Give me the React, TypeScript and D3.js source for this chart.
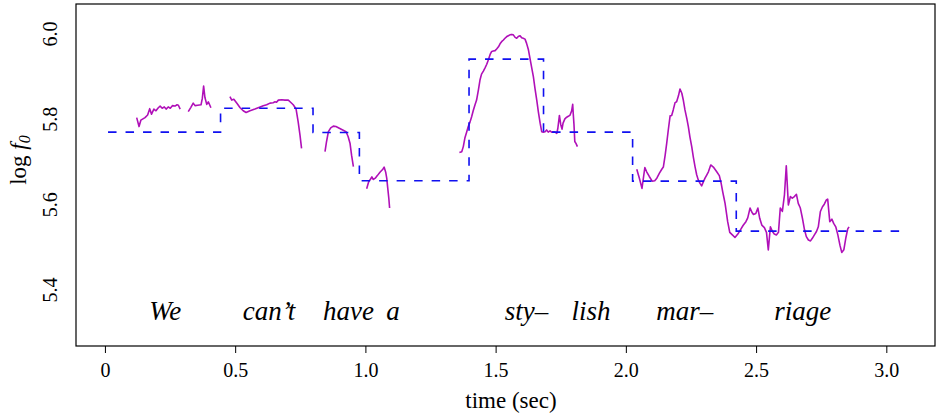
import React from "react";
import * as d3 from "d3";

// Dashed step function (time in sec, log f0)
const stepTimes = [0.01, 0.442, 0.797, 0.975, 1.396, 1.682, 2.024, 2.422, 3.075];
const stepValues = [5.77, 5.826, 5.769, 5.656, 5.941, 5.77, 5.655, 5.538, 5.538];

// Pitch contour segments [time, log f0]
const contourWe1: [number, number][] = [
  [0.12, 5.804], [0.129, 5.783], [0.136, 5.798], [0.152, 5.804], [0.162, 5.81], [0.17, 5.825],
  [0.177, 5.812], [0.186, 5.824], [0.194, 5.82], [0.203, 5.827], [0.21, 5.831], [0.218, 5.826],
  [0.226, 5.829], [0.233, 5.824], [0.241, 5.829], [0.249, 5.826], [0.257, 5.832], [0.267, 5.831],
  [0.275, 5.834], [0.28, 5.833], [0.287, 5.824],
];
const contourWe2: [number, number][] = [
  [0.318, 5.818], [0.328, 5.828], [0.337, 5.838], [0.344, 5.832], [0.354, 5.833], [0.367, 5.834],
  [0.372, 5.849], [0.377, 5.878], [0.382, 5.851], [0.389, 5.835], [0.395, 5.841], [0.4, 5.834],
  [0.405, 5.827],
];
const contourCant: [number, number][] = [
  [0.478, 5.853], [0.485, 5.845], [0.493, 5.847], [0.504, 5.838], [0.517, 5.827], [0.529, 5.82],
  [0.54, 5.816], [0.555, 5.82], [0.574, 5.824], [0.594, 5.829], [0.606, 5.832], [0.619, 5.834],
  [0.632, 5.838], [0.644, 5.839], [0.651, 5.841], [0.657, 5.84], [0.664, 5.845], [0.677, 5.846],
  [0.689, 5.845], [0.702, 5.845], [0.711, 5.84], [0.721, 5.834], [0.732, 5.824], [0.74, 5.794],
  [0.747, 5.763], [0.753, 5.732],
];
const contourHave: [number, number][] = [
  [0.843, 5.724], [0.849, 5.748], [0.856, 5.771], [0.865, 5.78], [0.875, 5.784], [0.885, 5.783],
  [0.898, 5.779], [0.911, 5.775], [0.924, 5.771], [0.932, 5.759], [0.939, 5.744], [0.945, 5.716],
  [0.952, 5.689],
];
const contourA: [number, number][] = [
  [1.003, 5.637], [1.011, 5.654], [1.018, 5.66], [1.023, 5.665], [1.028, 5.659], [1.036, 5.662],
  [1.044, 5.668], [1.054, 5.676], [1.065, 5.683], [1.07, 5.688], [1.076, 5.676], [1.08, 5.662],
  [1.084, 5.638], [1.088, 5.615], [1.091, 5.592],
];
const contourStylish: [number, number][] = [
  [1.359, 5.722], [1.368, 5.724], [1.374, 5.736], [1.38, 5.756], [1.387, 5.77], [1.393, 5.783],
  [1.4, 5.794], [1.406, 5.806], [1.412, 5.82], [1.419, 5.834], [1.425, 5.845], [1.432, 5.869],
  [1.438, 5.892], [1.444, 5.906], [1.451, 5.913], [1.457, 5.92], [1.464, 5.929], [1.47, 5.939],
  [1.477, 5.952], [1.483, 5.959], [1.489, 5.96], [1.496, 5.961], [1.502, 5.965], [1.509, 5.97],
  [1.515, 5.977], [1.521, 5.982], [1.528, 5.986], [1.534, 5.99], [1.541, 5.994], [1.547, 5.996],
  [1.553, 5.998], [1.56, 5.999], [1.566, 5.998], [1.573, 5.992], [1.579, 5.99], [1.585, 5.994],
  [1.592, 5.996], [1.598, 5.991], [1.604, 5.99], [1.611, 5.988], [1.617, 5.978], [1.624, 5.963],
  [1.63, 5.943], [1.636, 5.923], [1.643, 5.9], [1.649, 5.873], [1.656, 5.845], [1.662, 5.818],
  [1.669, 5.791], [1.675, 5.771], [1.681, 5.77], [1.688, 5.771], [1.694, 5.775], [1.7, 5.77],
  [1.707, 5.773], [1.713, 5.77], [1.72, 5.771], [1.726, 5.77], [1.733, 5.767], [1.737, 5.779],
  [1.743, 5.809], [1.748, 5.788], [1.753, 5.777], [1.757, 5.791], [1.764, 5.801], [1.771, 5.805],
  [1.777, 5.807], [1.784, 5.81], [1.79, 5.82], [1.794, 5.835], [1.796, 5.814], [1.799, 5.787],
  [1.802, 5.748], [1.807, 5.743], [1.812, 5.736],
];
const contourMarriage: [number, number][] = [
  [2.04, 5.683], [2.05, 5.662], [2.06, 5.638], [2.071, 5.687], [2.078, 5.677], [2.088, 5.666],
  [2.099, 5.655], [2.109, 5.656], [2.117, 5.662], [2.127, 5.674], [2.136, 5.683], [2.142, 5.688],
  [2.149, 5.716], [2.155, 5.744], [2.161, 5.775], [2.168, 5.808], [2.174, 5.809], [2.18, 5.822],
  [2.187, 5.839], [2.193, 5.841], [2.2, 5.855], [2.206, 5.871], [2.213, 5.861], [2.219, 5.844],
  [2.225, 5.822], [2.232, 5.802], [2.238, 5.783], [2.244, 5.759], [2.251, 5.736], [2.257, 5.712],
  [2.264, 5.688], [2.27, 5.67], [2.276, 5.658], [2.283, 5.65], [2.289, 5.644], [2.296, 5.654],
  [2.302, 5.662], [2.309, 5.67], [2.315, 5.677], [2.324, 5.693], [2.334, 5.688], [2.347, 5.677],
  [2.357, 5.668], [2.364, 5.65], [2.37, 5.63], [2.375, 5.615], [2.379, 5.603], [2.389, 5.56],
  [2.397, 5.535], [2.407, 5.529], [2.417, 5.523], [2.428, 5.531], [2.438, 5.541], [2.448, 5.551],
  [2.459, 5.56], [2.466, 5.569], [2.475, 5.592], [2.482, 5.582], [2.488, 5.577], [2.497, 5.579],
  [2.505, 5.592], [2.512, 5.568], [2.52, 5.552], [2.53, 5.546], [2.538, 5.535], [2.545, 5.494],
  [2.553, 5.548], [2.561, 5.537], [2.568, 5.531], [2.576, 5.529], [2.584, 5.535], [2.591, 5.592],
  [2.599, 5.584], [2.607, 5.623], [2.614, 5.691], [2.622, 5.599], [2.63, 5.619], [2.637, 5.615],
  [2.645, 5.619], [2.653, 5.624], [2.66, 5.603], [2.668, 5.592], [2.676, 5.568], [2.684, 5.541],
  [2.691, 5.525], [2.699, 5.517], [2.707, 5.515], [2.714, 5.521], [2.722, 5.529], [2.73, 5.537],
  [2.737, 5.548], [2.745, 5.584], [2.753, 5.595], [2.76, 5.601], [2.768, 5.611], [2.773, 5.613],
  [2.781, 5.56], [2.789, 5.566], [2.796, 5.556], [2.804, 5.548], [2.812, 5.529], [2.82, 5.505],
  [2.827, 5.488], [2.835, 5.494], [2.843, 5.523], [2.85, 5.543], [2.855, 5.548],
];
const contours = [contourWe1, contourWe2, contourCant, contourHave, contourA, contourStylish, contourMarriage];

// Word annotations
const words = ["We", "can\u2019t", "have", "a", "sty\u2013", "lish", "mar\u2013", "riage"];
const wordTimes = [0.23, 0.628, 0.933, 1.104, 1.617, 1.864, 2.224, 2.677];
const wordLevel = 5.33;

const xTicks = [0, 0.5, 1.0, 1.5, 2.0, 2.5, 3.0];
const xTickLabels = ["0", "0.5", "1.0", "1.5", "2.0", "2.5", "3.0"];
const yTicks = [5.4, 5.6, 5.8, 6.0];
const yTickLabels = ["5.4", "5.6", "5.8", "6.0"];

const W = 936;
const H = 415;
const L = 76, R = 935, T = 4, B = 346;
const FONT = "'Liberation Serif', 'DejaVu Serif', serif";

export default function App() {
  const x = d3.scaleLinear().domain([-0.113, 3.185]).range([L, R]);
  const y = d3.scaleLinear().domain([5.2686, 6.0703]).range([B, T]);

  const stepLine = d3
    .line<number>()
    .x((_, i) => x(stepTimes[i]))
    .y((d) => y(d))
    .curve(d3.curveStepAfter);

  const contourLine = d3
    .line<[number, number]>()
    .x((d) => x(d[0]))
    .y((d) => y(d[1]));

  return (
    <svg
      width={W}
      height={H}
      style={{ position: "absolute", left: 0, top: 0, background: "#fff" }}
      fontFamily={FONT}
    >
      <rect x={0} y={0} width={W} height={H} fill="#fff" />
      {contours.map((seg, i) => (
        <path key={i} d={contourLine(seg) || ""} fill="none" stroke="#B010B8" strokeWidth={1.6} strokeLinejoin="round" />
      ))}
      <path
        d={stepLine(stepValues) || ""}
        fill="none"
        stroke="#1010F0"
        strokeWidth={1.6}
        strokeDasharray="8.5 9"
      />
      {words.map((w, i) => (
        <text
          key={w}
          x={x(wordTimes[i])}
          y={y(wordLevel)}
          textAnchor="middle"
          fontStyle="italic"
          fontSize={27}
          fill="#000"
        >
          {w}
        </text>
      ))}
      <rect x={L} y={T} width={R - L} height={B - T} fill="none" stroke="#000" strokeWidth={1.2} />
      {xTicks.map((t, i) => (
        <g key={t}>
          <line x1={x(t)} x2={x(t)} y1={B} y2={B + 7} stroke="#000" strokeWidth={1} />
          <text x={x(t)} y={377} textAnchor="middle" fontSize={20}>
            {xTickLabels[i]}
          </text>
        </g>
      ))}
      <text x={511} y={408} textAnchor="middle" fontSize={23}>
        time (sec)
      </text>
      {yTicks.map((v, i) => (
        <text
          key={v}
          transform={`translate(57,${y(v)}) rotate(-90)`}
          textAnchor="middle"
          fontSize={20}
        >
          {yTickLabels[i]}
        </text>
      ))}
      <text transform={`translate(26,160) rotate(-90)`} textAnchor="middle" fontSize={23}>
        log <tspan fontStyle="italic">f</tspan>
        <tspan fontStyle="italic" fontSize={16} dy={4}>0</tspan>
      </text>
    </svg>
  );
}
